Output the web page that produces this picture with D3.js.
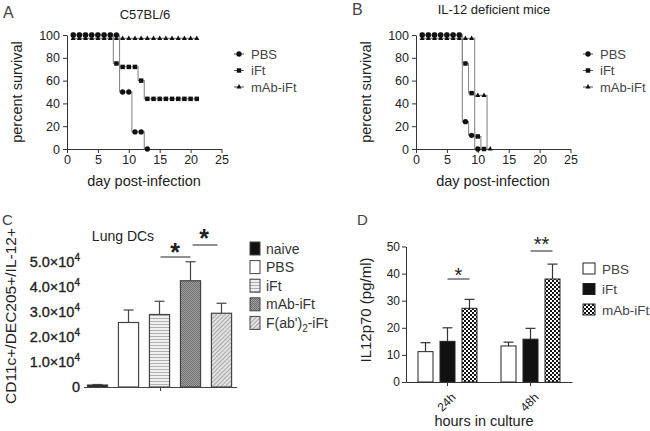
<!DOCTYPE html>
<html><head><meta charset="utf-8">
<script src="https://cdn.jsdelivr.net/npm/d3@7"></script>
<style>body{margin:0;background:#fff} svg{display:block;font-family:"Liberation Sans",Arial,sans-serif}</style>
</head><body><svg id="c" width="650" height="431"></svg>
<script>
// ---------- Data ----------
const survivalSeries = ["PBS", "iFt", "mAb-iFt"];
const survivalXTicks = [0, 5, 10, 15, 20, 25];
const survivalYTicks = [0, 20, 40, 60, 80, 100];
// Panel A (C57BL/6): [day, percent survival]
const aPBS = [[1,100],[2,100],[3,100],[4,100],[5,100],[6,100],[7,100],[8,100],[9,50],[10,50],[11,15],[12,15],[13,0]];
const aIFt = [[1,100],[2,100],[3,100],[4,100],[5,100],[6,100],[7,100],[8,75],[9,72],[10,72],[11,72],[12,60],[13,44],[14,44],[15,44],[16,44],[17,44],[18,44],[19,44],[20,44],[21,44]];
const aMAb = [[1,97],[2,97],[3,97],[4,97],[5,97],[6,97],[7,97],[8,97],[9,97],[10,97],[11,97],[12,97],[13,97],[14,97],[15,97],[16,97],[17,97],[18,97],[19,97],[20,97],[21,97]];
// Panel B (IL-12 deficient mice)
const bPBS = [[1,100],[2,100],[3,100],[4,100],[5,100],[6,100],[7,100],[8,24],[9,12],[10,0]];
const bIFt = [[1,100],[2,100],[3,100],[4,100],[5,100],[6,100],[7,100],[8,75],[9,49],[10,11],[11,0]];
const bMAb = [[1,97],[2,97],[3,97],[4,97],[5,97],[6,97],[7,97],[8,97],[9,97],[10,47],[11,47],[12,0]];

// Panel C (Lung DCs)
const dcCategories = ["naive", "PBS", "iFt", "mAb-iFt", "F(ab')2-iFt"];
const dcMeans = [800, 25800, 29000, 42500, 29500];
const dcErrors = [200, 5000, 5300, 7600, 4000];
const dcYTicks = [0, 10000, 20000, 30000, 40000, 50000];

// Panel D (IL12p70)
const ilGroups = ["24h", "48h"];
const ilSeries = ["PBS", "iFt", "mAb-iFt"];
const ilPBS = [11.2, 13.3];
const ilIFt = [15.0, 15.8];
const ilMAb = [27.2, 38.0];
const ilPBSErr = [3.3, 1.4];
const ilIFtErr = [5.0, 4.0];
const ilMAbErr = [3.3, 5.5];
const ilYTicks = [0, 10, 20, 30, 40, 50];

// ---------- Drawing ----------
const svg = d3.select("#c");
const FONT = '"Liberation Sans", Arial, sans-serif';
const defs = svg.append("defs");

// patterns
const pH = defs.append("pattern").attr("id","hstripe").attr("patternUnits","userSpaceOnUse").attr("width",4).attr("height",3);
pH.append("rect").attr("width",4).attr("height",3).attr("fill","#f0f0f0");
pH.append("rect").attr("width",4).attr("height",1).attr("fill","#b0b0b0");
const pM = defs.append("pattern").attr("id","dgrey").attr("patternUnits","userSpaceOnUse").attr("width",2).attr("height",2);
pM.append("rect").attr("width",2).attr("height",2).attr("fill","#a0a0a0");
pM.append("rect").attr("width",1).attr("height",1).attr("fill","#6e6e6e");
pM.append("rect").attr("x",1).attr("y",1).attr("width",1).attr("height",1).attr("fill","#6e6e6e");
const pF = defs.append("pattern").attr("id","diag").attr("patternUnits","userSpaceOnUse").attr("width",3).attr("height",3).attr("patternTransform","rotate(45)");
pF.append("rect").attr("width",3).attr("height",3).attr("fill","#e2e2e2");
pF.append("rect").attr("width",1).attr("height",3).attr("fill","#a8a8a8");
const pC = defs.append("pattern").attr("id","check").attr("patternUnits","userSpaceOnUse").attr("width",4).attr("height",4);
pC.append("rect").attr("width",4).attr("height",4).attr("fill","#fff");
pC.append("rect").attr("width",2).attr("height",2).attr("fill","#111");
pC.append("rect").attr("x",2).attr("y",2).attr("width",2).attr("height",2).attr("fill","#111");

function styleAxis(g, size) {
  g.selectAll("path.domain").attr("stroke","#333").attr("stroke-width",1);
  g.selectAll(".tick line").attr("stroke","#333");
  g.selectAll("text").attr("font-family",FONT).attr("font-size",size).attr("fill","#222");
}

function label(x, y, txt, size, opts = {}) {
  const t = svg.append("text").attr("x", x).attr("y", y).text(txt)
    .attr("font-family", FONT).attr("font-size", size).attr("fill", opts.fill || "#222")
    .attr("text-anchor", opts.anchor || "middle");
  if (opts.weight) t.attr("font-weight", opts.weight);
  if (opts.rotate) t.attr("transform", `rotate(-90,${x},${y})`);
  return t;
}

// ---- survival panels ----
function survivalPanel(ox, series, title, titleY, letter, letterY) {
  const x = d3.scaleLinear().domain([0, 25]).range([ox, ox + 154.5]);
  const y = d3.scaleLinear().domain([0, 100]).range([149, 35]);
  const gx = svg.append("g").attr("transform", "translate(0,149)")
    .call(d3.axisBottom(x).tickValues(survivalXTicks).tickSize(4).tickSizeOuter(0).tickPadding(2));
  styleAxis(gx, 12.5);
  const gy = svg.append("g").attr("transform", `translate(${ox},0)`)
    .call(d3.axisLeft(y).tickValues(survivalYTicks).tickSize(4).tickSizeOuter(0).tickPadding(3));
  styleAxis(gy, 12.5);

  const line = d3.line().x(d => x(d[0])).y(d => y(d[1])).curve(d3.curveStep);
  series.forEach(s => {
    svg.append("path").attr("d", line(s)).attr("fill","none").attr("stroke","#8a8a8a").attr("stroke-width",1.1);
  });
  const syms = [d3.symbolCircle, d3.symbolSquare, d3.symbolTriangle];
  const sizes = [22, 20, 11];
  series.forEach((s, i) => {
    svg.append("g").selectAll("path").data(s).join("path")
      .attr("transform", d => `translate(${x(d[0])},${y(d[1])})`)
      .attr("d", d3.symbol().type(syms[i]).size(sizes[i])).attr("fill","#111");
  });

  label(ox + 78, titleY, title, 13);
  label(ox - 45, 92, "percent survival", 14.5, {rotate: true});
  label(ox + 77, 186, "day post-infection", 14.5);
  label(ox - 64, letterY, letter, 16, {anchor: "start", fill: "#444"});

  // legend
  const lx = ox + 172;
  survivalSeries.forEach((name, i) => {
    const ly = 54 + i * 16.5;
    svg.append("line").attr("x1", lx - 5).attr("x2", lx + 5).attr("y1", ly).attr("y2", ly).attr("stroke","#555");
    svg.append("path").attr("transform", `translate(${lx},${ly})`)
      .attr("d", d3.symbol().type(syms[i]).size(sizes[i])).attr("fill","#111");
    label(lx + 12, ly + 4.5, name, 13, {anchor: "start", fill: "#444"});
  });
}
survivalPanel(67, [aPBS, aIFt, aMAb], "C57BL/6", 19, "A", 18);
survivalPanel(416, [bPBS, bIFt, bMAb], "IL-12 deficient mice", 14, "B", 15);

// ---- Panel C ----
{
  const x = d3.scaleBand().domain(dcCategories).range([82, 237]).paddingInner(0.35).paddingOuter(0.175);
  const y = d3.scaleLinear().domain([0, 50000]).range([387, 262]);
  const fills = ["#111", "#fff", "url(#hstripe)", "url(#dgrey)", "url(#diag)"];
  // error bars
  dcCategories.forEach((c, i) => {
    const cx = x(c) + x.bandwidth() / 2;
    svg.append("line").attr("x1", cx).attr("x2", cx).attr("y1", y(dcMeans[i])).attr("y2", y(dcMeans[i] + dcErrors[i])).attr("stroke","#444").attr("stroke-width",1.2);
    svg.append("line").attr("x1", cx - 5).attr("x2", cx + 5).attr("y1", y(dcMeans[i] + dcErrors[i])).attr("y2", y(dcMeans[i] + dcErrors[i])).attr("stroke","#444").attr("stroke-width",1.2);
  });
  svg.append("g").selectAll("rect").data(dcCategories).join("rect")
    .attr("x", d => x(d)).attr("width", x.bandwidth())
    .attr("y", (d, i) => y(dcMeans[i])).attr("height", (d, i) => y(0) - y(dcMeans[i]))
    .attr("fill", (d, i) => fills[i]).attr("stroke", "#444").attr("stroke-width", 1.2);
  // x axis line with a single center tick
  svg.append("line").attr("x1", 84).attr("x2", 237).attr("y1", 387.5).attr("y2", 387.5).attr("stroke","#444");
  svg.append("line").attr("x1", 160.5).attr("x2", 160.5).attr("y1", 387.5).attr("y2", 391).attr("stroke","#444");
  // y tick labels
  dcYTicks.forEach(v => {
    const t = svg.append("text").attr("x", 80).attr("y", y(v) + 5).attr("text-anchor","end")
      .attr("font-family", FONT).attr("font-size", 14.5).attr("fill","#222")
      .attr("stroke", "#222").attr("stroke-width", 0.35);
    if (v === 0) { t.text("0"); }
    else {
      t.append("tspan").text((v / 10000).toFixed(1) + "\u00d710");
      t.append("tspan").attr("dy", -6).attr("font-size", 10).text("4");
    }
  });
  label(123, 241, "Lung DCs", 14);
  label(15.5, 316, "CD11c+/DEC205+/IL-12+", 15.5, {rotate: true});
  label(2, 225, "C", 15, {anchor: "start", fill: "#444"});
  // significance
  const cm = c => x(c) + x.bandwidth() / 2;
  svg.append("line").attr("x1", cm("iFt") + 1).attr("x2", cm("mAb-iFt")).attr("y1", 257).attr("y2", 257).attr("stroke","#222");
  label((cm("iFt") + cm("mAb-iFt")) / 2, 261, "*", 25, {weight: "bold"});
  svg.append("line").attr("x1", cm("mAb-iFt") + 2).attr("x2", cm("F(ab')2-iFt") - 4).attr("y1", 245).attr("y2", 245).attr("stroke","#222");
  label(204, 247, "*", 25, {weight: "bold"});
  // legend
  dcCategories.forEach((c, i) => {
    const ly = 242 + i * 18.6;
    svg.append("rect").attr("x", 250).attr("y", ly).attr("width", 10).attr("height", 13)
      .attr("fill", fills[i]).attr("stroke", "#444").attr("stroke-width", 1);
    const t = svg.append("text").attr("x", 266).attr("y", ly + 11.5).attr("font-family", FONT).attr("font-size", 14).attr("fill", "#333");
    if (c === "F(ab')2-iFt") {
      t.append("tspan").text("F(ab')");
      t.append("tspan").attr("dy", 4).attr("font-size", 10).text("2");
      t.append("tspan").attr("dy", -4).text("-iFt");
    } else t.text(c);
  });
}

// ---- Panel D ----
{
  const x0 = d3.scaleBand().domain(ilGroups).range([406, 572]);
  const x1 = d3.scalePoint().domain(ilSeries).range([-22, 22]);
  const bw = 15;
  const y = d3.scaleLinear().domain([0, 50]).range([382, 246.5]);
  const vals = [ilPBS, ilIFt, ilMAb];
  const errs = [ilPBSErr, ilIFtErr, ilMAbErr];
  const fills = ["#fff", "#111", "url(#check)"];
  ilGroups.forEach((g, gi) => {
    ilSeries.forEach((s, si) => {
      const cx = x0(g) + x0.bandwidth() / 2 + x1(s);
      const v = vals[si][gi], e = errs[si][gi];
      svg.append("line").attr("x1", cx).attr("x2", cx).attr("y1", y(v)).attr("y2", y(v + e)).attr("stroke","#333").attr("stroke-width",1.2);
      svg.append("line").attr("x1", cx - 5).attr("x2", cx + 5).attr("y1", y(v + e)).attr("y2", y(v + e)).attr("stroke","#333").attr("stroke-width",1.2);
      svg.append("rect").attr("x", cx - bw / 2).attr("width", bw).attr("y", y(v)).attr("height", y(0) - y(v))
        .attr("fill", fills[si]).attr("stroke", "#222").attr("stroke-width", 1);
    });
  });
  const gy = svg.append("g").attr("transform", "translate(406,0)")
    .call(d3.axisLeft(y).tickValues(ilYTicks).tickSize(4).tickSizeOuter(0).tickPadding(2));
  styleAxis(gy, 12);
  const gx = svg.append("g").attr("transform", "translate(0,382)")
    .call(d3.axisBottom(x0).tickSize(4).tickSizeOuter(0));
  styleAxis(gx, 12);
  gx.selectAll(".tick text").attr("text-anchor", "end").attr("dy", "0.35em").attr("y", 0).attr("x", 0)
    .attr("transform", "translate(6,13) rotate(-45)");
  label(371, 310, "IL12p70 (pg/ml)", 15, {rotate: true});
  label(484, 426, "hours in culture", 14.5);
  label(357, 225, "D", 15, {anchor: "start", fill: "#444"});
  // significance
  const c24 = x0("24h") + x0.bandwidth() / 2, c48 = x0("48h") + x0.bandwidth() / 2;
  svg.append("line").attr("x1", c24 + x1("iFt")).attr("x2", c24 + x1("mAb-iFt")).attr("y1", 279).attr("y2", 279).attr("stroke","#222");
  label(c24 + 11, 282, "*", 20);
  svg.append("line").attr("x1", c48 + x1("iFt")).attr("x2", c48 + x1("mAb-iFt")).attr("y1", 251).attr("y2", 251).attr("stroke","#222");
  label(c48 + 11, 251, "**", 20);
  // legend
  ilSeries.forEach((s, i) => {
    const ly = 263 + i * 20.5;
    svg.append("rect").attr("x", 583).attr("y", ly).attr("width", 12).attr("height", 11)
      .attr("fill", fills[i]).attr("stroke", "#222").attr("stroke-width", 1);
    label(602, ly + 10.5, s, 13.5, {anchor: "start", fill: "#444"});
  });
}
</script></body></html>
